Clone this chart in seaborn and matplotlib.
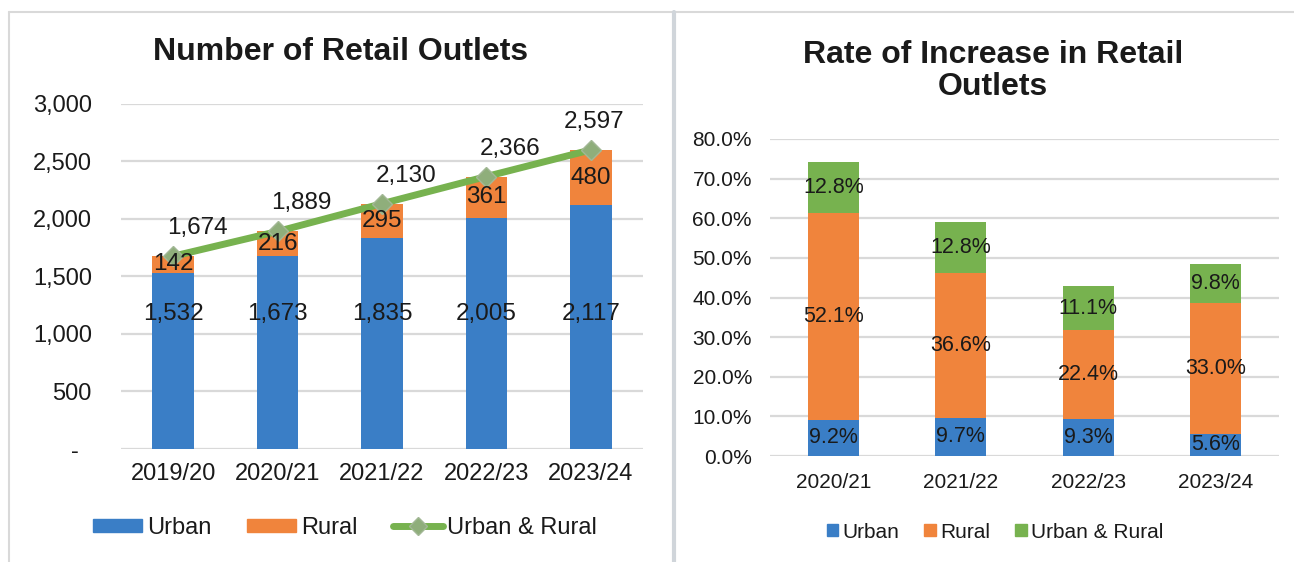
import numpy as np
import pandas as pd
import matplotlib
matplotlib.use("Agg")
import matplotlib.pyplot as plt
import seaborn as sns
from matplotlib.patches import Patch
from matplotlib.lines import Line2D

# ---------------- data ----------------
years_left = ["2019/20", "2020/21", "2021/22", "2022/23", "2023/24"]
urban_count = [1532, 1673, 1835, 2005, 2117]
rural_count = [142, 216, 295, 361, 480]
total_count = [1674, 1889, 2130, 2366, 2597]

years_right = ["2020/21", "2021/22", "2022/23", "2023/24"]
urban_rate = [9.2, 9.7, 9.3, 5.6]
rural_rate = [52.1, 36.6, 22.4, 33.0]
both_rate = [12.8, 12.8, 11.1, 9.8]

series_names = ["Urban", "Rural", "Urban & Rural"]
left_yticks = [0, 500, 1000, 1500, 2000, 2500, 3000]
right_yticks = [0, 10, 20, 30, 40, 50, 60, 70, 80]

# ---------------- style ----------------
BLUE = "#3A7EC6"
ORANGE = "#F0843C"
GREEN = "#77B24F"
GRID = "#D9D9D9"
TXT = "#1A1A1A"

sns.set_theme(style="white")
plt.rcParams["font.family"] = ["Liberation Sans", "DejaVu Sans"]

W, H = 1294, 562
fig = plt.figure(figsize=(W / 100, H / 100), dpi=100)

# frame lines
fig.add_artist(Line2D([9 / W, 1], [1 - 12 / H] * 2, color=GRID, lw=1.5))
fig.add_artist(Line2D([9 / W] * 2, [0, 1 - 12 / H], color=GRID, lw=1.5))
fig.add_artist(Line2D([674 / W] * 2, [0, 1 - 12 / H], color="#D0D5DA", lw=3))

axL = fig.add_axes([121 / W, 1 - 449 / H, (643 - 121) / W, (449 - 103.5) / H])
axR = fig.add_axes([770 / W, 1 - 456 / H, (1279 - 770) / W, (456 - 139) / H])

# ---------------- left chart ----------------
dfL = pd.DataFrame({"year": years_left, "urban": urban_count,
                    "rural": rural_count, "total": total_count})
dfL["stack"] = dfL["urban"] + dfL["rural"]
dfL["pos"] = np.arange(len(dfL))

sns.barplot(data=dfL, x="year", y="stack", color=ORANGE, saturation=1,
            width=0.4, errorbar=None, linewidth=0, ax=axL, zorder=2)
sns.barplot(data=dfL, x="year", y="urban", color=BLUE, saturation=1,
            width=0.4, errorbar=None, linewidth=0, ax=axL, zorder=2)
sns.lineplot(data=dfL, x="pos", y="total", color=GREEN, lw=5, marker="D",
             markersize=10, markerfacecolor="#8FAE7B", markeredgecolor="#A3B896",
             markeredgewidth=1, ax=axL, zorder=4)

axL.set_xlim(-0.5, len(dfL) - 0.5)
axL.set_ylim(0, 3000)
axL.set_xticks(dfL["pos"])
axL.set_xticklabels(years_left, fontsize=17, color=TXT)
axL.set_yticks(left_yticks)
axL.set_yticklabels([f"{v:,}" if v else "-  " for v in left_yticks],
                    fontsize=17, color=TXT)
axL.tick_params(axis="y", length=0, pad=21)
axL.tick_params(axis="x", length=0, pad=10)
axL.set_xlabel("")
axL.set_ylabel("")
axL.yaxis.grid(True, color=GRID, lw=1.6)
axL.set_axisbelow(True)
for s in axL.spines.values():
    s.set_visible(False)

for i, r in dfL.iterrows():
    axL.text(r["pos"], 1170, f"{r['urban']:,}", ha="center", va="center",
             fontsize=17.5, color=TXT, zorder=5)
    axL.text(r["pos"], r["urban"] + r["rural"] / 2, f"{r['rural']:,}",
             ha="center", va="center", fontsize=17.5, color=TXT, zorder=5)
    dx = 24 if i < len(dfL) - 1 else 3
    axL.annotate(f"{r['total']:,}", (r["pos"], r["total"]),
                 xytext=(dx, 28), textcoords="offset pixels",
                 ha="center", va="center", fontsize=17.5, color=TXT, zorder=5)

fig.text(341 / W, 1 - 52 / H, "Number of Retail Outlets", ha="center",
         va="center", fontsize=23, weight="bold", color=TXT)

handlesL = [Patch(color=BLUE), Patch(color=ORANGE),
            Line2D([], [], color=GREEN, lw=5, marker="D", markersize=9,
                   markerfacecolor="#8FAE7B", markeredgecolor="#A3B896")]
fig.legend(handlesL, series_names, loc="center",
           bbox_to_anchor=(345 / W, 1 - 528 / H), ncol=3, frameon=False,
           fontsize=17, handlelength=2.1, handleheight=0.5,
           handletextpad=0.2, columnspacing=1.5, labelcolor=TXT)

# ---------------- right chart ----------------
dfR = pd.DataFrame({"year": years_right, "urban": urban_rate,
                    "rural": rural_rate, "both": both_rate})
dfR["c1"] = dfR["urban"]
dfR["c2"] = dfR["urban"] + dfR["rural"]
dfR["c3"] = dfR["c2"] + dfR["both"]
dfR["pos"] = np.arange(len(dfR))

for col, colr in [("c3", GREEN), ("c2", ORANGE), ("c1", BLUE)]:
    sns.barplot(data=dfR, x="year", y=col, color=colr, saturation=1,
                width=0.4, errorbar=None, linewidth=0, ax=axR, zorder=2)

axR.set_xlim(-0.5, len(dfR) - 0.5)
axR.set_ylim(0, 80)
axR.set_xticks(dfR["pos"])
axR.set_xticklabels(years_right, fontsize=15, color=TXT)
axR.set_yticks(right_yticks)
axR.set_yticklabels([f"{v:.1f}%" for v in right_yticks], fontsize=15, color=TXT)
axR.tick_params(axis="y", length=0, pad=13)
axR.tick_params(axis="x", length=0, pad=12)
axR.set_xlabel("")
axR.set_ylabel("")
axR.yaxis.grid(True, color=GRID, lw=1.6)
axR.set_axisbelow(True)
for s in axR.spines.values():
    s.set_visible(False)

for _, r in dfR.iterrows():
    axR.text(r["pos"], r["urban"] / 2, f"{r['urban']:.1f}%", ha="center",
             va="center", fontsize=15.5, color=TXT, zorder=5)
    axR.text(r["pos"], r["urban"] + r["rural"] / 2, f"{r['rural']:.1f}%",
             ha="center", va="center", fontsize=15.5, color=TXT, zorder=5)
    axR.text(r["pos"], r["c2"] + r["both"] / 2, f"{r['both']:.1f}%",
             ha="center", va="center", fontsize=15.5, color=TXT, zorder=5)

fig.text(993 / W, 1 - 71 / H, "Rate of Increase in Retail\nOutlets",
         ha="center", va="center", fontsize=23, weight="bold", color=TXT,
         linespacing=1.12)

handlesR = [Patch(color=BLUE), Patch(color=ORANGE), Patch(color=GREEN)]
fig.legend(handlesR, series_names, loc="center",
           bbox_to_anchor=(995 / W, 1 - 532 / H), ncol=3, frameon=False,
           fontsize=15, handlelength=0.55, handleheight=0.55,
           handletextpad=0.2, columnspacing=1.2, labelcolor=TXT)

fig.savefig("out.png", dpi=100)
